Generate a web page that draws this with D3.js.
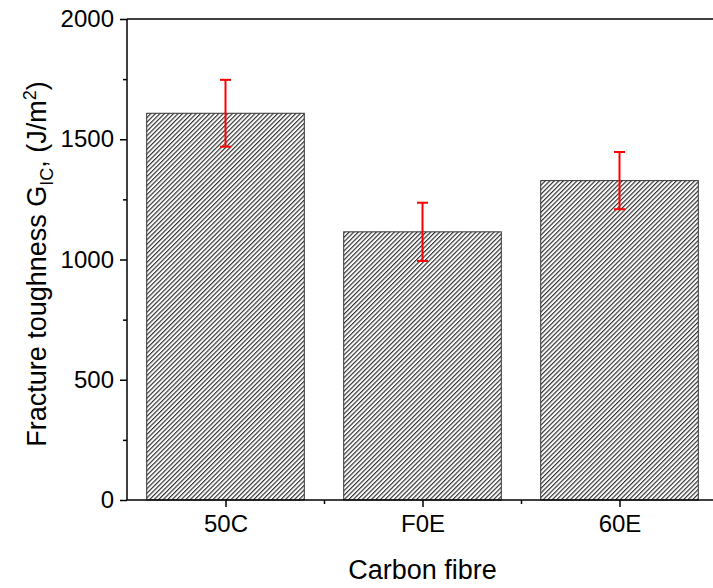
<!DOCTYPE html>
<html>
<head>
<meta charset="utf-8">
<script src="https://cdn.jsdelivr.net/npm/d3@7"></script>
<style>
  body { margin: 0; background: #fff; }
  svg { display: block; font-family: "Liberation Sans", Arial, sans-serif; }
</style>
</head>
<body>
<svg id="chart" width="713" height="588"></svg>
<script>
var categories = ["50C", "F0E", "60E"];
var toughness = [1608, 1115, 1328];
var errors = [139, 121, 119];
var yTicks = [0, 500, 1000, 1500, 2000];

var svg = d3.select("#chart"),
  margin = {top: 19, left: 127},
  height = 500 - margin.top,
  g = svg.append("g").attr("transform", "translate(" + margin.left + "," + margin.top + ")");

// category index 1..3, axis spans 0.5..3.5 (right end falls outside the window)
var x = d3.scaleLinear().domain([0.5, 3.5]).range([0, 591]);
var y = d3.scaleLinear().domain([0, 2000]).range([height, 0]);
var barW = (x(2) - x(1)) * 0.8;

var defs = svg.append("defs");
var pat = defs.append("pattern")
  .attr("id", "hatch")
  .attr("patternUnits", "userSpaceOnUse")
  .attr("width", 3.2)
  .attr("height", 3.2)
  .attr("patternTransform", "rotate(45)");
pat.append("rect").attr("width", 3.2).attr("height", 3.2).attr("fill", "#fff");
pat.append("line")
  .attr("x1", 0.6).attr("y1", 0).attr("x2", 0.6).attr("y2", 3.2)
  .attr("stroke", "#222").attr("stroke-width", 1.1);

var data = categories.map(function(c, i) { return {name: c, idx: i + 1, v: toughness[i], e: errors[i]}; });

g.selectAll(".bar")
  .data(data)
  .enter().append("rect")
    .attr("class", "bar")
    .attr("x", function(d) { return x(d.idx) - barW / 2; })
    .attr("y", function(d) { return y(d.v); })
    .attr("width", barW)
    .attr("height", function(d) { return y(0) - y(d.v); })
    .attr("fill", "url(#hatch)")
    .attr("stroke", "#333")
    .attr("stroke-width", 1);

// error bars
var err = g.selectAll(".err").data(data).enter().append("g").attr("class", "err")
  .attr("stroke", "#ff0000").attr("stroke-width", 2);
err.append("line")
  .attr("x1", function(d) { return x(d.idx); })
  .attr("x2", function(d) { return x(d.idx); })
  .attr("y1", function(d) { return y(d.v - d.e); })
  .attr("y2", function(d) { return y(d.v + d.e); });
err.append("line")
  .attr("x1", function(d) { return x(d.idx) - 5.5; })
  .attr("x2", function(d) { return x(d.idx) + 5.5; })
  .attr("y1", function(d) { return y(d.v + d.e); })
  .attr("y2", function(d) { return y(d.v + d.e); });
err.append("line")
  .attr("x1", function(d) { return x(d.idx) - 5.5; })
  .attr("x2", function(d) { return x(d.idx) + 5.5; })
  .attr("y1", function(d) { return y(d.v - d.e); })
  .attr("y2", function(d) { return y(d.v - d.e); });

// y axis: major + minor ticks
var yAxis = g.append("g").attr("class", "axis axis--y")
  .call(d3.axisLeft(y).tickValues(yTicks).tickSize(7).tickPadding(6).tickFormat(d3.format("d")));
g.append("g")
  .call(d3.axisLeft(y).tickValues([250, 750, 1250, 1750]).tickSize(4).tickFormat(""))
  .select(".domain").remove();

// x axis
var xAxis = g.append("g").attr("class", "axis axis--x")
  .attr("transform", "translate(0," + height + ")")
  .call(d3.axisBottom(x).tickValues([1, 2, 3]).tickSize(7).tickPadding(8)
    .tickFormat(function(d) { return categories[d - 1]; }));
g.append("g")
  .attr("transform", "translate(0," + height + ")")
  .call(d3.axisBottom(x).tickValues([1.5, 2.5]).tickSize(4).tickFormat(""))
  .select(".domain").remove();

// top frame line
g.append("line")
  .attr("x1", 0).attr("x2", x(3.5)).attr("y1", 0).attr("y2", 0)
  .attr("stroke", "#000").attr("stroke-width", 1.5);

svg.selectAll(".axis .domain, .tick line").attr("stroke", "#000").attr("stroke-width", 1.5);
yAxis.select(".domain").attr("d", "M0," + height + "V0");
xAxis.select(".domain").attr("d", "M0,0H" + x(3.5));
svg.selectAll(".axis text").attr("font-size", 24).attr("font-family", "Liberation Sans, Arial, sans-serif").attr("fill", "#000");

// axis titles
svg.append("text")
  .attr("x", x(2) + margin.left)
  .attr("y", 579)
  .attr("text-anchor", "middle")
  .attr("font-size", 27)
  .text("Carbon fibre");

var yt = svg.append("text")
  .attr("transform", "translate(46,264) rotate(-90)")
  .attr("text-anchor", "middle")
  .attr("font-size", 27);
yt.append("tspan").text("Fracture toughness G");
yt.append("tspan").attr("font-size", 18).attr("dy", 7).text("IC");
yt.append("tspan").attr("dy", -7).text(", (J/m");
yt.append("tspan").attr("font-size", 18).attr("dy", -10).text("2");
yt.append("tspan").attr("dy", 10).text(")");
</script>
</body>
</html>
